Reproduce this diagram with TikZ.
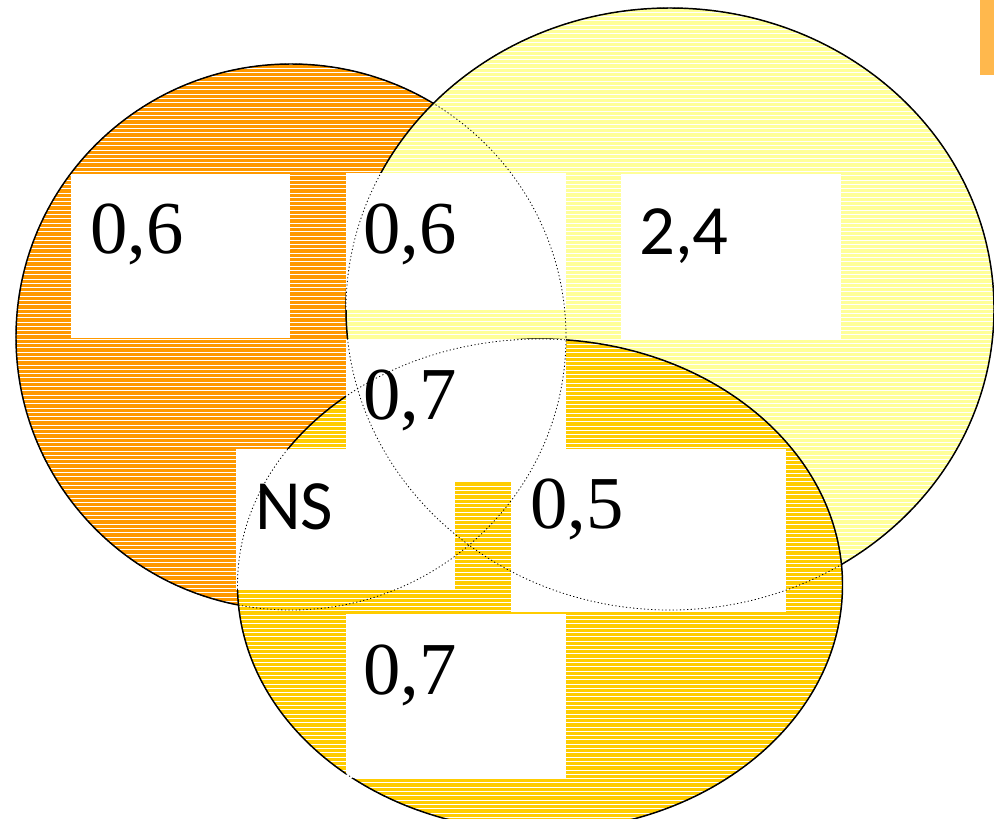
\documentclass[tikz,border=0pt]{standalone}
\usepackage{fontspec}
\setmainfont{Liberation Serif}
\newfontfamily\calfont{Carlito}
\definecolor{orangeA}{HTML}{FF9900}
\definecolor{yellowA}{HTML}{FFFF99}
\definecolor{goldA}{HTML}{FFCC00}
\definecolor{tabA}{HTML}{FFB84D}
\begin{document}
\begin{tikzpicture}[x=0.75pt,y=-0.75pt,
  outline/.style={draw=black,line width=1.1pt},
  hidden/.style={draw=black,line width=0.6pt,dash pattern=on 0.9pt off 1.8pt},
  whitebox/.style={fill=white},
  serifnum/.style={anchor=base west,inner sep=0pt,font=\fontsize{56}{60}\selectfont},
  sansnum/.style={anchor=base west,inner sep=0pt,font=\calfont\fontsize{53}{58}\selectfont},
  stripe/.style={white,line width=0.7pt}]
\useasboundingbox (0,0) rectangle (994,818);
\clip (0,0) rectangle (994,818);
% orange ellipse
\fill[orangeA] (291,337) ellipse [x radius=206.25pt, y radius=204.75pt];
\begin{scope}
  \clip (291,337) ellipse [x radius=206.25pt, y radius=204.75pt];
  \foreach \k in {0,...,130} \draw[stripe] (0,{64+\k*4.3}) -- (994,{64+\k*4.3});
\end{scope}
\draw[outline] (291,337) ellipse [x radius=206.25pt, y radius=204.75pt];
% yellow ellipse
\fill[yellowA] (670,309) ellipse [x radius=243pt, y radius=225.75pt];
\begin{scope}
  \clip (670,309) ellipse [x radius=243pt, y radius=225.75pt];
  \foreach \k in {0,...,142} \draw[stripe] (0,{8+\k*4.3}) -- (994,{8+\k*4.3});
\end{scope}
\draw[outline] (670,309) ellipse [x radius=243pt, y radius=225.75pt];
% gold ellipse
\fill[goldA] (540,585) ellipse [x radius=226.875pt, y radius=184.5pt];
\begin{scope}
  \clip (540,585) ellipse [x radius=226.875pt, y radius=184.5pt];
  \foreach \k in {0,...,112} \draw[stripe] (0,{340+\k*4.3}) -- (994,{340+\k*4.3});
\end{scope}
\draw[outline] (540,585) ellipse [x radius=226.875pt, y radius=184.5pt];
% white boxes
\path[whitebox] (71,174) rectangle (290,338);
\path[whitebox] (346,173) rectangle (566,310);
\path[whitebox] (621,174) rectangle (841,339);
\path[whitebox] (346,339) rectangle (566,482);
\path[whitebox] (236,449) rectangle (455,590);
\path[whitebox] (511,449) rectangle (786,612);
\path[whitebox] (346,614) rectangle (566,778);
% hidden outlines
\draw[hidden] (291,337) ellipse [x radius=206.25pt, y radius=204.75pt];
\draw[hidden] (670,309) ellipse [x radius=243pt, y radius=225.75pt];
\draw[hidden] (540,585) ellipse [x radius=226.875pt, y radius=184.5pt];
% tab
\fill[tabA] (980,0) rectangle (994,75);
% labels
\node[serifnum] (a) at (90,253) {0,6};
\node[serifnum] (ab) at (363,253) {0,6};
\node[sansnum] (b) at (639,254) {2,4};
\node[serifnum] (abc) at (363,419) {0,7};
\node[sansnum] (ac) at (255,529) {NS};
\node[serifnum] (bc) at (530,528) {0,5};
\node[serifnum] (c) at (363,694) {0,7};
\end{tikzpicture}
\end{document}
